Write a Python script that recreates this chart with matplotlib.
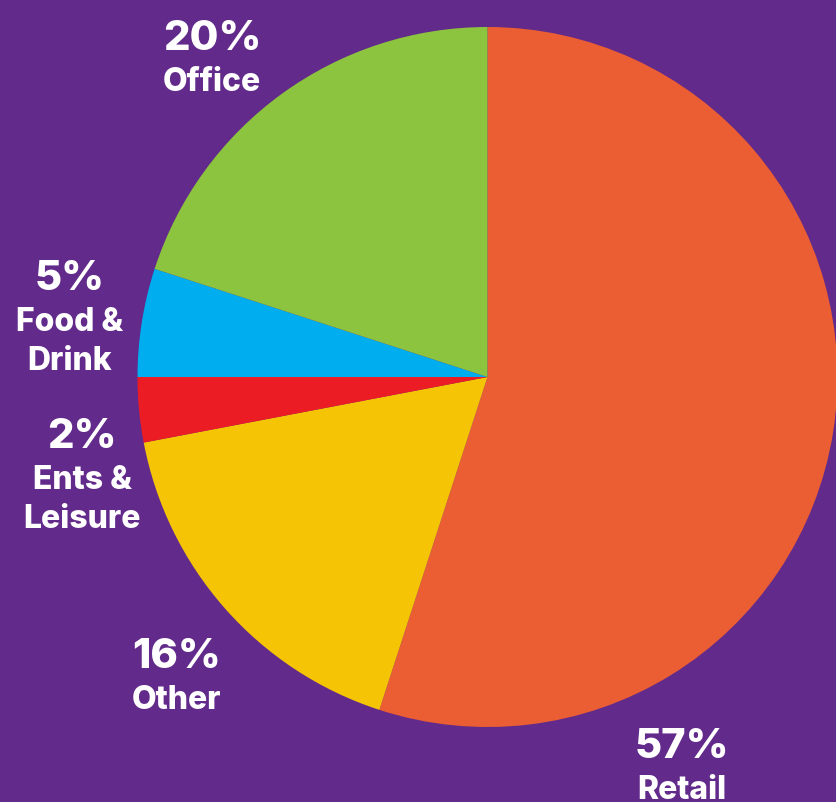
import matplotlib.pyplot as plt

sectors = ["Retail", "Other", "Ents & Leisure", "Food & Drink", "Office"]
shares = [55.0, 17.0, 3.0, 5.0, 20.0]
pct_labels = ["57%", "16%", "2%", "5%", "20%"]
name_labels = ["Retail", "Other", "Ents &\nLeisure", "Food &\nDrink", "Office"]

colors = ["#EB5D33", "#F5C405", "#EC1C24", "#00ADEE", "#8CC43F"]
BG = "#622A8A"

W, H = 837, 803
CX, CY, R = 487.5, 378, 350

# label anchor (centre x, baseline of percent text) in pixel coords
label_pos = [(682, 758), (177, 668), (82, 448), (70, 290), (212, 50)]

FONT = ["Inter", "DejaVu Sans"]

fig = plt.figure(figsize=(W / 100, H / 100), dpi=100)
fig.patch.set_facecolor(BG)
ax = fig.add_axes([0, 0, 1, 1])
ax.set_facecolor(BG)

ax.pie(
    shares,
    colors=colors,
    startangle=90,
    counterclock=False,
    center=(CX, H - CY),
    radius=R,
    wedgeprops={"linewidth": 0},
    frame=True,
)
ax.set_xlim(0, W)
ax.set_ylim(0, H)
ax.set_aspect("equal")
ax.axis("off")

for pct, name, (x, y) in zip(pct_labels, name_labels, label_pos):
    ax.text(x, H - y, pct, color="white", fontsize=30, fontweight="heavy",
            family=FONT, ha="center", va="baseline")
    lines = name.split("\n")
    for i, line in enumerate(lines):
        ax.text(x, H - (y + 41 + i * 39), line, color="white", fontsize=23,
                fontweight="heavy", family=FONT, ha="center", va="baseline")

fig.savefig("out.png", dpi=100, facecolor=BG)
